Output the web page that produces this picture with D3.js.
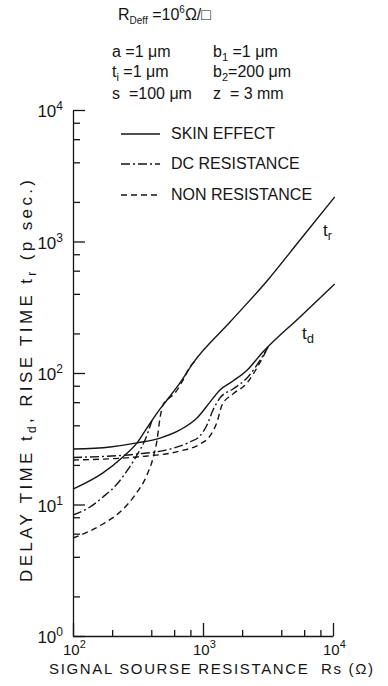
<!DOCTYPE html>
<html><head><meta charset="utf-8">
<script src="https://cdn.jsdelivr.net/npm/d3@7"></script>
<style>
body{margin:0;background:#fff;}
svg text{font-family:"Liberation Sans",Arial,sans-serif;fill:#151515;white-space:pre;}
</style></head><body>
<svg id="c" width="388" height="686"></svg>
<script>
// ---- data ----
const xMajor = [100, 1000, 10000];
const xExp = ["2", "3", "4"];
const yMajor = [1, 10, 100, 1000, 10000];
const yExp = ["0", "1", "2", "3", "4"];
const minorMult = [2, 4, 6, 8];

// delay time t_d
const tdSkinRs = [100, 193, 311, 467, 665, 899, 1132, 1351, 1701, 2181, 2843, 5575, 10300];
const tdSkinV  = [26.4, 27.4, 29.4, 32.0, 36.9, 45.5, 60.1, 74.3, 86.9, 105, 142, 267, 475];
const tdDcRs   = [100, 311, 557, 794, 948, 1073, 1194, 1351, 1701, 2181, 2843, 3162];
const tdDcV    = [22.8, 24.2, 26.4, 29.9, 33.2, 40.2, 52.3, 64.6, 75.6, 91.6, 132, 157];
const tdNonRs  = [100, 311, 665, 948, 1132, 1282, 1401, 1701, 2181, 2649, 3162];
const tdNonV   = [21.8, 23.0, 25.5, 28.8, 33.2, 42.4, 57.1, 69.2, 84.0, 113, 157];
// rise time t_r
const trSkinRs = [100, 170, 242, 311, 371, 443, 529, 665, 838, 1614, 3107, 5575, 10300];
const trSkinV  = [13.1, 17.4, 23.0, 29.4, 38.2, 49.6, 62.3, 84.0, 119, 244, 501, 1026, 2180];
const trDcRs   = [100, 135, 170, 218, 260, 311, 358, 405];
const trDcV    = [8.32, 9.57, 11.4, 14.3, 18.0, 23.8, 30.9, 43.5];
const trNonRs  = [100, 130, 170, 230, 300, 371, 413, 443, 467, 492, 538, 609, 702, 794, 868];
const trNonV   = [5.56, 6.18, 7.11, 8.77, 11.8, 16.8, 22.6, 30.9, 45.5, 57.1, 63.4, 70.5, 88.4, 111, 123];

const legendLabels = ["SKIN EFFECT", "DC RESISTANCE", "NON RESISTANCE"];
const dashes = [null, "9,3,2,3", "6,4"];

// ---- drawing ----
const svg = d3.select("#c");
const ink = "#151515";
const x = d3.scaleLog().domain([100, 10000]).range([73, 333]);
const y = d3.scaleLog().domain([1, 10000]).range([636, 110]);

function rich(t, parts, small) {
  let shift = 0;
  parts.forEach(([s, k]) => {
    const target = k === "sub" ? 4 : k === "sup" ? -7 : 0;
    const ts = t.append("tspan").text(s).attr("dy", target - shift);
    if (k !== "n") ts.style("font-size", small + "px");
    shift = target;
  });
  return t;
}

const minorX = [], minorY = [];
xMajor.slice(0, -1).forEach(d => minorMult.forEach(m => minorX.push(d * m)));
yMajor.slice(0, -1).forEach(d => minorMult.forEach(m => minorY.push(d * m)));

// x axis
const gx = svg.append("g").attr("transform", "translate(0,636)");
gx.call(d3.axisBottom(x).tickValues(xMajor).tickSizeInner(-13).tickSizeOuter(0).tickFormat(""));
const gxm = svg.append("g").attr("transform", "translate(0,636)");
gxm.call(d3.axisBottom(x).tickValues(minorX).tickSizeInner(-6).tickSizeOuter(0).tickFormat(""));
gxm.select(".domain").remove();
// y axis
const gy = svg.append("g").attr("transform", "translate(73,0)");
gy.call(d3.axisLeft(y).tickValues(yMajor).tickSizeInner(-12).tickSizeOuter(0).tickFormat(""));
const gym = svg.append("g").attr("transform", "translate(73,0)");
gym.call(d3.axisLeft(y).tickValues(minorY).tickSizeInner(-7).tickSizeOuter(0).tickFormat(""));
gym.select(".domain").remove();
svg.selectAll(".domain, .tick line").attr("stroke", ink).attr("stroke-width", 1.3);

// tick labels
xMajor.forEach((v, i) => {
  rich(svg.append("text").attr("x", x(v) - 10).attr("y", 655).style("font-size", "15px"),
       [["10", "n"], [xExp[i], "sup"]], 11);
});
yMajor.forEach((v, i) => {
  rich(svg.append("text").attr("x", 63).attr("y", y(v) + 7).attr("text-anchor", "end").style("font-size", "17px"),
       [["10", "n"], [yExp[i], "sup"]], 12);
});

// curves
const line = d3.line().x(d => x(d[0])).y(d => y(d[1])).curve(d3.curveMonotoneX);
const series = [
  [tdSkinRs, tdSkinV, 0], [tdDcRs, tdDcV, 1], [tdNonRs, tdNonV, 2],
  [trSkinRs, trSkinV, 0], [trDcRs, trDcV, 1], [trNonRs, trNonV, 2]
];
series.forEach(([rs, vs, k]) => {
  svg.append("path").datum(d3.zip(rs, vs)).attr("d", line)
    .attr("fill", "none").attr("stroke", ink).attr("stroke-width", 1.4)
    .attr("stroke-dasharray", dashes[k]);
});

// curve labels
rich(svg.append("text").attr("x", 323).attr("y", 236).style("font-size", "17px"), [["t", "n"], ["r", "sub"]], 12);
rich(svg.append("text").attr("x", 302).attr("y", 339).style("font-size", "17px"), [["t", "n"], ["d", "sub"]], 13);

// legend
const legY = [139, 169, 200];
legendLabels.forEach((lab, i) => {
  svg.append("line").attr("x1", 121).attr("x2", 160).attr("y1", legY[i] - 5).attr("y2", legY[i] - 5)
    .attr("stroke", ink).attr("stroke-width", 1.4).attr("stroke-dasharray", dashes[i]);
  svg.append("text").attr("x", 171).attr("y", legY[i]).style("font-size", "16px").text(lab);
});

// header
const hs = "16px";
rich(svg.append("text").attr("x", 118).attr("y", 20).style("font-size", hs),
     [["R", "n"], ["Deff", "sub"], [" =10", "n"], ["6", "sup"], ["Ω/□", "n"]], 10);
rich(svg.append("text").attr("x", 112).attr("y", 57).style("font-size", hs), [["a =1 μm", "n"]], 11);
rich(svg.append("text").attr("x", 213).attr("y", 57).style("font-size", hs), [["b", "n"], ["1", "sub"], [" =1 μm", "n"]], 11);
rich(svg.append("text").attr("x", 112).attr("y", 77).style("font-size", hs), [["t", "n"], ["i", "sub"], [" =1 μm", "n"]], 11);
rich(svg.append("text").attr("x", 213).attr("y", 77).style("font-size", hs), [["b", "n"], ["2", "sub"], ["=200 μm", "n"]], 11);
rich(svg.append("text").attr("x", 112).attr("y", 99).style("font-size", hs), [["s  =100 μm", "n"]], 11);
rich(svg.append("text").attr("x", 213).attr("y", 99).style("font-size", hs), [["z  = 3 mm", "n"]], 11);

// axis titles
function fit(t, target) {
  const len = t.node().getComputedTextLength();
  const n = t.text().length;
  t.style("letter-spacing", ((target - len) / Math.max(1, n - 1)) + "px");
}
const xt = rich(svg.append("text").attr("x", 49).attr("y", 674).style("font-size", "15px"),
     [["SIGNAL SOURSE RESISTANCE  R", "n"], ["s", "n"], [" (Ω)", "n"]], 12);
fit(xt, 324);
const yt = rich(svg.append("text").attr("transform", "translate(32,582) rotate(-90)").style("font-size", "17px"),
     [["DELAY TIME t", "n"], ["d", "sub"], [", RISE TIME t", "n"], ["r", "sub"], [" (p sec.)", "n"]], 12);
fit(yt, 402);
</script>
</body></html>
